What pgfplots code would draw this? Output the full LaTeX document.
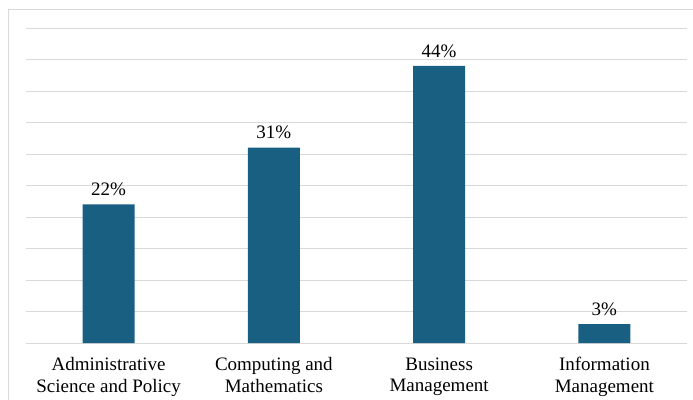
\documentclass[border=0pt]{standalone}
\usepackage{fontspec}
\setmainfont{Liberation Serif}
\usepackage{pgfplots}
\pgfplotsset{compat=1.18}
\definecolor{barblue}{HTML}{185F82}
\definecolor{gridgray}{HTML}{D9D9D9}
\begin{document}
\begin{tikzpicture}[x=1bp,y=1bp]
\useasboundingbox (0,0) rectangle (693,399);
\draw[gridgray, line width=1bp] (8,389) -- (700,389);
\draw[gridgray, line width=1bp] (8,389) -- (8,-5);
\begin{axis}[
  at={(26bp,56bp)}, anchor=south west,
  width=661bp, height=315bp, scale only axis,
  xmin=-0.5, xmax=3.5, ymin=0, ymax=50,
  ytick={0,5,...,50}, yticklabels={},
  xtick={0,1,2,3},
  xticklabels={{Administrative\\Science and Policy},{Computing and\\Mathematics},{Business\\Management},{Information\\Management}},
  xticklabel style={align=center, font=\fontsize{19bp}{21.5bp}\selectfont, yshift=-11bp},
  major tick length=0pt,
  axis line style={draw=none},
  ymajorgrids, grid style={gridgray, line width=1bp},
  ybar, bar width=52bp,
  /pgf/number format/assume math mode=true,
  nodes near coords={\pgfmathprintnumber{\pgfplotspointmeta}\%},
  nodes near coords style={font=\fontsize{19bp}{21bp}\selectfont, yshift=5bp},
  clip=false,
]
\addplot[fill=barblue, draw=none] coordinates {(0,22) (1,31) (2,44) (3,3)};
\end{axis}
\end{tikzpicture}
\end{document}
